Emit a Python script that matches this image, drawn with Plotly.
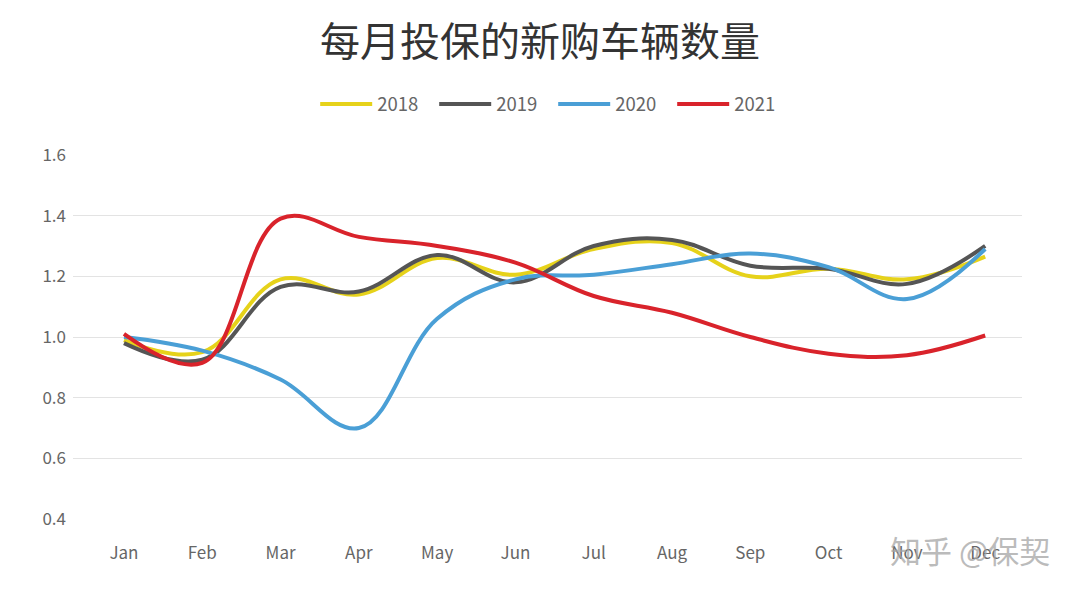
import plotly.graph_objects as go

months = ["Jan", "Feb", "Mar", "Apr", "May", "Jun", "Jul", "Aug", "Sep", "Oct", "Nov", "Dec"]
v2018 = [0.99, 0.95, 1.19, 1.14, 1.26, 1.205, 1.29, 1.31, 1.20, 1.225, 1.19, 1.265]
v2019 = [0.98, 0.925, 1.165, 1.15, 1.27, 1.18, 1.30, 1.32, 1.235, 1.225, 1.175, 1.30]
v2020 = [1.00, 0.955, 0.86, 0.70, 1.06, 1.19, 1.205, 1.24, 1.275, 1.23, 1.125, 1.29]
v2021 = [1.01, 0.915, 1.39, 1.33, 1.30, 1.245, 1.135, 1.08, 1.00, 0.945, 0.94, 1.005]

series = [("2018", v2018, "#e6d21a"), ("2019", v2019, "#555555"),
          ("2020", v2020, "#4a9fd6"), ("2021", v2021, "#d9232b")]

font_family = "Noto Sans CJK SC, Noto Sans, sans-serif"

fig = go.Figure()
for name, vals, color in series:
    fig.add_trace(go.Scatter(x=months, y=vals, name=name, mode="lines",
                             line=dict(color=color, width=4, shape="spline", smoothing=1.1)))

fig.update_layout(
    width=1080, height=596,
    paper_bgcolor="white", plot_bgcolor="white",
    margin=dict(l=73, r=58, t=154, b=76),
    font=dict(family=font_family, color="#666666", size=17),
    title=dict(text="每月投保的新购车辆数量", x=0.5, xref="container", xanchor="center",
               y=1 - 42 / 596, yref="container", yanchor="middle",
               font=dict(size=40, color="#333333", family=font_family)),
    legend=dict(orientation="h", x=0.506, xanchor="center", y=1.135, yanchor="middle",
                font=dict(size=18.5, color="#666666"), itemwidth=52,
                entrywidth=52, entrywidthmode="pixels", traceorder="normal"),
    showlegend=True,
)
fig.update_xaxes(type="category", range=[-0.651, 11.47], showgrid=False, showline=False,
                 zeroline=False, ticks="", ticklabelstandoff=21,
                 tickfont=dict(size=17, color="#666666"))
fig.update_yaxes(range=[0.397, 1.603], tickvals=[0.4, 0.6, 0.8, 1.0, 1.2, 1.4, 1.6],
                 ticktext=["0.4", "0.6", "0.8", "1.0", "1.2", "1.4", "1.6"],
                 showgrid=True, gridcolor="#e3e3e3", gridwidth=1, zeroline=False,
                 showline=False, ticks="", ticklabelstandoff=6,
                 tickfont=dict(size=17, color="#666666"))

fig.add_annotation(text="知乎 @保契", xref="paper", yref="paper", x=1.032, y=-0.08,
                   xanchor="right", yanchor="middle", showarrow=False,
                   font=dict(size=31, color="rgba(165,165,165,0.75)", family=font_family))

fig.write_html("out.html")
